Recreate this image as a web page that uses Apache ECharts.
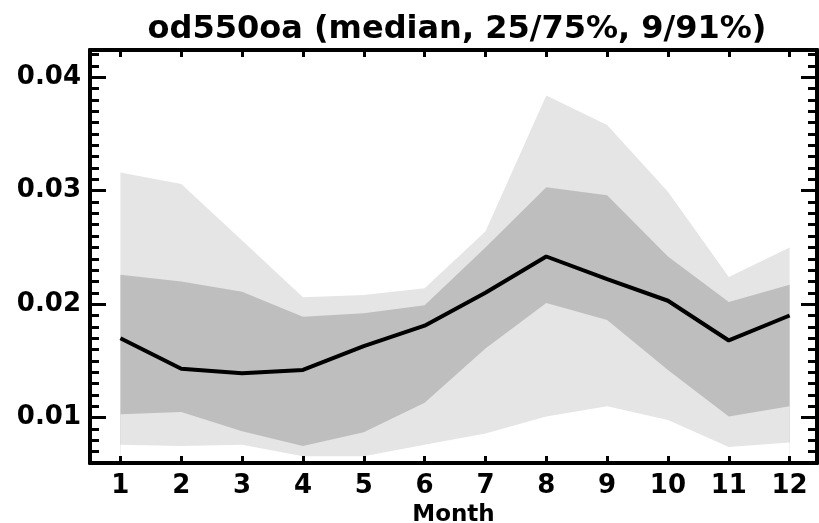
<!DOCTYPE html>
<html>
<head>
<meta charset="utf-8">
<script src="https://cdn.jsdelivr.net/npm/echarts@6/dist/echarts.min.js"></script>
<style>
  html, body { margin: 0; padding: 0; background: #ffffff; }
  #chart { width: 819px; height: 523px; }
</style>
</head>
<body>
<div id="chart"></div>
<script>
// Monthly od550oa distribution: median with 25/75% and 9/91% bands
const months = [1, 2, 3, 4, 5, 6, 7, 8, 9, 10, 11, 12];
const p09    = [0.0076, 0.0075, 0.0076, 0.0066, 0.0066, 0.0076, 0.0086, 0.0101, 0.0110, 0.0098, 0.0074, 0.0078];
const p25    = [0.0103, 0.0105, 0.0088, 0.0075, 0.0087, 0.0113, 0.0161, 0.0201, 0.0186, 0.0142, 0.0101, 0.0110];
const median = [0.0170, 0.0143, 0.0139, 0.0142, 0.0163, 0.0181, 0.0210, 0.0242, 0.0222, 0.0203, 0.0168, 0.0190];
const p75    = [0.0226, 0.0220, 0.0211, 0.0189, 0.0192, 0.0199, 0.0250, 0.0303, 0.0296, 0.0242, 0.0202, 0.0217];
const p91    = [0.0316, 0.0306, 0.0256, 0.0206, 0.0208, 0.0214, 0.0264, 0.0384, 0.0358, 0.0299, 0.0224, 0.0250];

const yMajorTicks = [0.01, 0.02, 0.03, 0.04];
const yMinorTicks = [0.007, 0.008, 0.009, 0.011, 0.012, 0.013, 0.014, 0.015, 0.016, 0.017, 0.018, 0.019,
                     0.021, 0.022, 0.023, 0.024, 0.025, 0.026, 0.027, 0.028, 0.029,
                     0.031, 0.032, 0.033, 0.034, 0.035, 0.036, 0.037, 0.038, 0.039, 0.041, 0.042];

const Y_MIN = 0.006, Y_MAX = 0.0424;
const X_MIN = 0.5, X_MAX = 12.45;
const FONT = 'DejaVu Sans';
const LIGHT = '#e5e5e5', DARK = '#bebebe';

const pairs = arr => months.map((m, i) => [m, arr[i]]);

const axisLine = { show: true, onZero: false, lineStyle: { color: '#000', width: 4 } };

function xAxisDef(pos, withLabels) {
  return {
    type: 'value', position: pos, min: X_MIN, max: X_MAX, z: 10,
    axisLine: axisLine,
    axisTick: { show: true, inside: true, length: 7, customValues: months,
                lineStyle: { color: '#000', width: 3 } },
    axisLabel: withLabels
      ? { show: true, customValues: months, margin: 10, color: '#000',
          fontFamily: FONT, fontWeight: 'bold', fontSize: 26 }
      : { show: false },
    splitLine: { show: false },
    name: withLabels ? 'Month' : '',
    nameLocation: 'middle', nameGap: 29,
    nameTextStyle: { color: '#000', fontFamily: FONT, fontWeight: 'bold', fontSize: 23 }
  };
}

function yAxisDef(pos, ticks, len, withLabels) {
  return {
    type: 'value', position: pos, min: Y_MIN, max: Y_MAX, z: 10,
    axisLine: axisLine,
    axisTick: { show: true, inside: true, length: len, customValues: ticks,
                lineStyle: { color: '#000', width: 3 } },
    axisLabel: withLabels
      ? { show: true, customValues: ticks, margin: 9, color: '#000',
          fontFamily: FONT, fontWeight: 'bold', fontSize: 26,
          formatter: v => v.toFixed(2) }
      : { show: false },
    splitLine: { show: false }
  };
}

// each band edge is filled down to the bottom axis; later layers paint over earlier ones
function fillTo(arr, color, z) {
  return { type: 'line', data: pairs(arr), symbol: 'none', silent: true, z: z,
           lineStyle: { width: 0, opacity: 0 },
           areaStyle: { color: color, opacity: 1, origin: 'start' } };
}

const chart = echarts.init(document.getElementById('chart'), null, { renderer: 'canvas' });
chart.setOption({
  animation: false,
  backgroundColor: '#ffffff',
  title: {
    text: 'od550oa (median, 25/75%, 9/91%)',
    left: 452, top: 9, textAlign: 'center',
    textStyle: { color: '#000', fontFamily: FONT, fontWeight: 'bold', fontSize: 32 }
  },
  grid: { left: 90, right: 2, top: 50, bottom: 60, containLabel: false, outerBoundsMode: 'none' },
  xAxis: [xAxisDef('bottom', true), xAxisDef('top', false)],
  yAxis: [
    yAxisDef('left', yMajorTicks, 16, true),
    yAxisDef('left', yMinorTicks, 9, false),
    yAxisDef('right', yMajorTicks, 16, false),
    yAxisDef('right', yMinorTicks, 9, false)
  ],
  series: [
    fillTo(p91, LIGHT, 1),
    fillTo(p75, DARK, 2),
    fillTo(p25, LIGHT, 3),
    fillTo(p09, '#ffffff', 4),
    { type: 'line', data: pairs(median), symbol: 'none', silent: true, z: 5,
      lineStyle: { color: '#000', width: 4 } }
  ]
});
</script>
</body>
</html>
